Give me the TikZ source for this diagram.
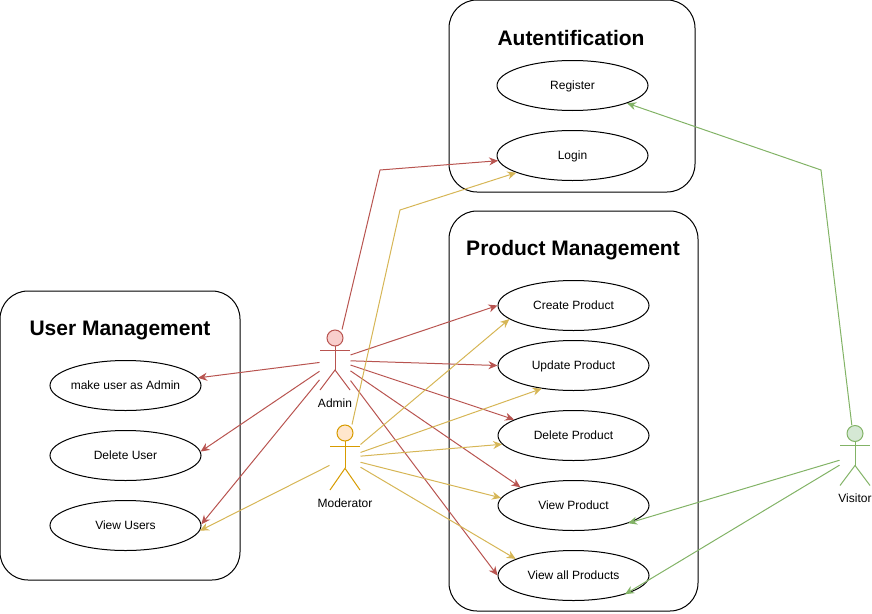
\documentclass[tikz,border=0pt]{standalone}
\usepackage{fontspec}
\setmainfont{Liberation Sans}
\usetikzlibrary{arrows.meta,shapes.geometric}
\definecolor{redline}{HTML}{B85450}
\definecolor{redfill}{HTML}{F8CECC}
\definecolor{yellowline}{HTML}{D6B656}
\definecolor{orangeline}{HTML}{D79B00}
\definecolor{orangefill}{HTML}{FFE6CC}
\definecolor{greenline}{HTML}{82B366}
\definecolor{greenfill}{HTML}{D5E8D4}
\tikzset{
	panel/.style={draw=black, rounded corners=28pt, inner sep=0pt},
	title/.style={font=\fontsize{21}{25}\selectfont\bfseries, text height=15pt, text depth=0pt},
	usecase/.style={draw=black, fill=white, ellipse, minimum width=151pt, minimum height=50pt, inner xsep=-14pt, inner ysep=0pt, text height=8.6pt, text depth=0pt, font=\fontsize{12}{14}\selectfont},
	actorbox/.style={inner sep=0pt, minimum width=30pt},
	actorname/.style={font=\fontsize{12}{14}\selectfont},
	link/.style={-{Stealth[length=9pt,width=8pt]}},
	adminlink/.style={link, draw=redline},
	modlink/.style={link, draw=yellowline},
	visitorlink/.style={link, draw=greenline},
}
% #1 name, #2 centre, #3 height, #4 line, #5 fill
\def\actor#1(#2,#3)#4#5#6{
	\node[actorbox, minimum height=#4pt] (#1) at (#2,#3) {};
	\draw[#5, fill=#6] (#2,#3-#4/2+8) circle (8pt);
	\draw[#5] (#2,#3-#4/2+16) -- (#2,#3+#4/6);
	\draw[#5] (#2-15,#3-#4/6) -- (#2+15,#3-#4/6);
	\draw[#5] (#2-15,#3+#4/2) -- (#2,#3+#4/6) -- (#2+15,#3+#4/2);
}

\begin{document}
\begin{tikzpicture}[x=1pt, y=-1pt, line width=1pt]
		\useasboundingbox (0,0) rectangle (872,613);
		
		%%%%% panels %%%%%
		\node[panel, minimum width=246pt, minimum height=192pt] (authpanel) at (572,96) {};
		\node[panel, minimum width=249pt, minimum height=400pt] (productpanel) at (573.5,411) {};
		\node[panel, minimum width=240pt, minimum height=289pt] (userpanel) at (120,435.5) {};
		
		\node[title] (authtitle) at (571,38) {Autentification};
		\node[title] (producttitle) at (573,248) {Product Management};
		\node[title] (usertitle) at (120,328) {User Management};
		
		%%%%% use cases %%%%%
		\node[usecase] (register) at (572.5,85.5) {Register};
		\node[usecase] (login) at (572.5,155.5) {Login};
		
		\node[usecase] (create) at (573.5,305.5) {Create Product};
		\node[usecase] (update) at (573.5,365.5) {Update Product};
		\node[usecase] (delete) at (573.5,435.5) {Delete Product};
		\node[usecase] (viewone) at (573.5,505.5) {View Product};
		\node[usecase] (viewall) at (573.5,575.5) {View all Products};
		
		\node[usecase] (makeadmin) at (125.5,385.5) {make user as Admin};
		\node[usecase] (deluser) at (125.5,455.5) {Delete User};
		\node[usecase] (viewusers) at (125.5,525.5) {View Users};
		
		%%%%% actors %%%%%
		\actor{admin}(335,360){60}{redline}{redfill}
		\actor{moderator}(345,457.5){65}{orangeline}{orangefill}
		\actor{visitor}(855,455.5){60}{greenline}{greenfill}
		
		\node[actorname] (adminname) at (335,403) {Admin};
		\node[actorname] (moderatorname) at (345,503) {Moderator};
		\node[actorname] (visitorname) at (855,498) {Visitor};
		
		\coordinate (adminbend) at (380,170);
		\coordinate (modbend) at (400,210);
		\coordinate (visitorbend) at (821,170);
		
		%%%%% admin %%%%%
		\draw[adminlink] (admin.77) -- (adminbend) -- (login.184);
		\draw[adminlink] (admin.18) -- (create.west);
		\draw[adminlink] (admin.-3) -- (update.west);
		\draw[adminlink] (admin.-18) -- (delete.165);
		\draw[adminlink] (admin.-35) -- (viewone.161);
		\draw[adminlink] (admin.-53) -- (viewall.west);
		\draw[adminlink] (admin.189) -- (makeadmin.6);
		\draw[adminlink] (admin.216) -- (deluser.3);
		\draw[adminlink] (admin.232) -- (viewusers.1);
		
		%%%%% moderator %%%%%
		\draw[modlink] (moderator.78) -- (modbend) -- (login.197);
		\draw[modlink] (moderator.40) -- (create.192);
		\draw[modlink] (moderator.18) -- (update.216);
		\draw[modlink] (moderator.5) -- (delete.187);
		\draw[modlink] (moderator.-17) -- (viewone.174);
		\draw[modlink] (moderator.-32) -- (viewall.164);
		\draw[modlink] (moderator.207) -- (viewusers.-4);
		
		%%%%% visitor %%%%%
		\draw[visitorlink] (visitor.96) -- (visitorbend) -- (register.-18);
		\draw[visitorlink] (visitor.197) -- (viewone.-18);
		\draw[visitorlink] (visitor.212) -- (viewall.-20);
	\end{tikzpicture}
\end{document}
